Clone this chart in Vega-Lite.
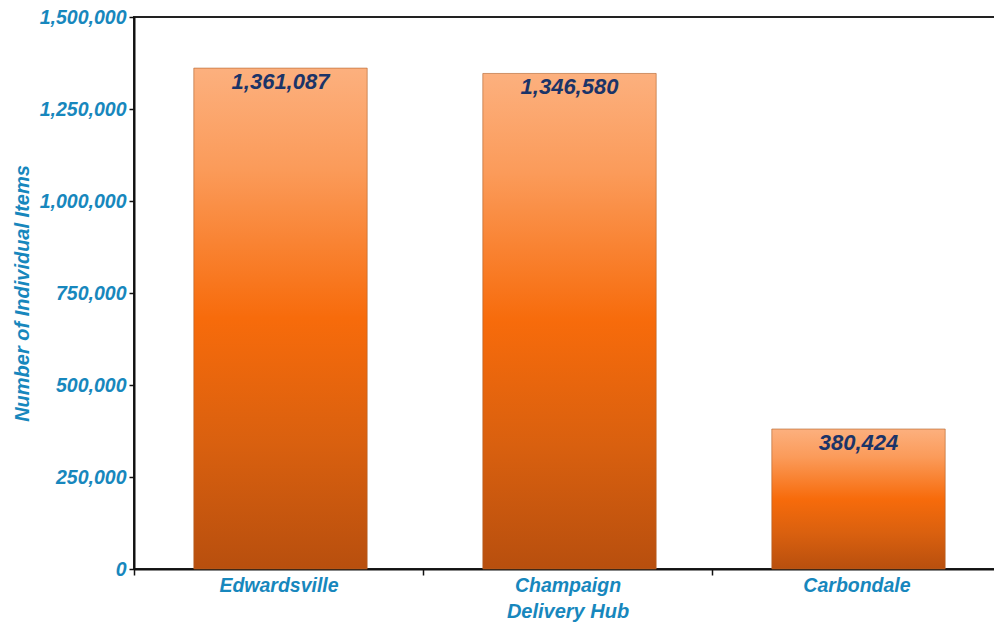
{
  "$schema": "https://vega.github.io/schema/vega-lite/v6.json",
  "autosize": "none",
  "width": 867,
  "height": 552,
  "padding": {"left": 134, "top": 17, "right": 0, "bottom": 60},
  "background": "white",
  "config": {
    "view": {"stroke": "#222222", "strokeWidth": 2},
    "axis": {
      "labelFont": "Liberation Sans",
      "labelFontWeight": "bold",
      "labelFontStyle": "italic",
      "labelColor": "#1787BD",
      "labelFontSize": 19.5,
      "titleFont": "Liberation Sans",
      "titleFontWeight": "bold",
      "titleFontStyle": "italic",
      "titleColor": "#1787BD",
      "titleFontSize": 20,
      "domainColor": "#111111",
      "domainWidth": 2,
      "tickColor": "#111111",
      "tickWidth": 1.5,
      "grid": false
    }
  },
  "data": {
    "values": [
      {"hub": "Edwardsville", "items": 1361087},
      {"hub": "Champaign", "items": 1346580},
      {"hub": "Carbondale", "items": 380424}
    ]
  },
  "encoding": {
    "x": {
      "field": "hub",
      "type": "nominal",
      "sort": null,
      "scale": {"paddingInner": 0, "paddingOuter": 0},
      "axis": {
        "title": "Delivery Hub",
        "labelAngle": 0,
        "tickBand": "extent",
        "tickSize": 6,
        "labelPadding": 1,
        "titlePadding": 7
      }
    },
    "y": {
      "field": "items",
      "type": "quantitative",
      "scale": {"domain": [0, 1500000], "nice": false},
      "axis": {
        "title": "Number of Individual Items",
        "values": [0, 250000, 500000, 750000, 1000000, 1250000, 1500000],
        "format": ",d",
        "tickSize": 5,
        "labelPadding": 3,
        "titlePadding": 7
      }
    }
  },
  "layer": [
    {
      "mark": {
        "type": "bar",
        "width": {"band": 0.6},
        "xOffset": 2,
        "stroke": "#B0602A",
        "strokeWidth": 1,
        "strokeOpacity": 0.6,
        "color": {
          "gradient": "linear",
          "x1": 0, "y1": 0, "x2": 0, "y2": 1,
          "stops": [
            {"offset": 0, "color": "#FCB07E"},
            {"offset": 0.2, "color": "#FB9B5A"},
            {"offset": 0.5, "color": "#F76B0B"},
            {"offset": 0.75, "color": "#D9600F"},
            {"offset": 1, "color": "#B84F0E"}
          ]
        }
      }
    },
    {
      "mark": {
        "type": "text",
        "baseline": "top",
        "dy": 4,
        "dx": 2,
        "font": "Liberation Sans",
        "fontWeight": "bold",
        "fontStyle": "italic",
        "fontSize": 22,
        "color": "#1B3468"
      },
      "encoding": {
        "text": {"field": "items", "type": "quantitative", "format": ",d"}
      }
    }
  ]
}
